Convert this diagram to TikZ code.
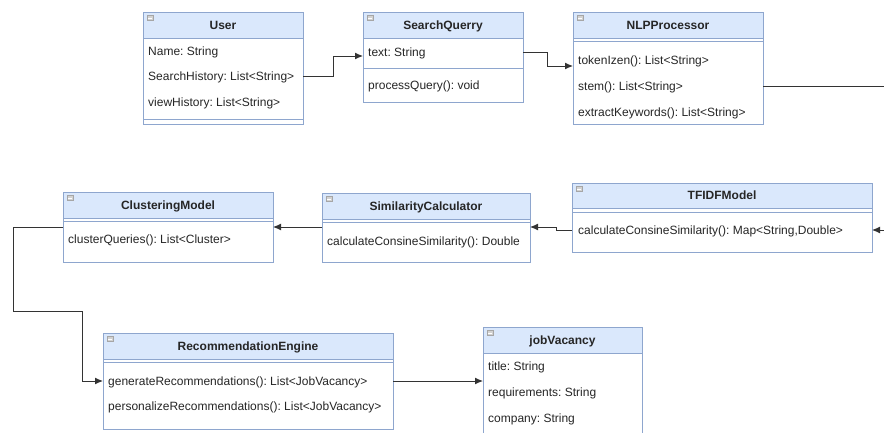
\documentclass[tikz,border=0pt]{standalone}
\usepackage{fontspec}
\setmainfont{Liberation Sans}
\usetikzlibrary{arrows.meta,calc,fit}
\frenchspacing

\definecolor{hdrfill}{HTML}{DAE8FC}
\definecolor{hdrline}{HTML}{8EA6CE}
\definecolor{wire}{HTML}{333333}
\definecolor{ink}{HTML}{262626}

\tikzset{
  x=1pt, y=-1pt,
  cls/.style={draw=hdrline, fill=white, line width=0.8pt, inner sep=0pt, outer sep=0pt},
  head/.style={draw=hdrline, fill=hdrfill, line width=0.8pt, inner sep=0pt, outer sep=0pt},
  ttl/.style={inner sep=0pt, text=ink, font=\bfseries\fontsize{12}{14}\selectfont,
              text height=8.6pt, text depth=0pt},
  row/.style={anchor=west, inner sep=0pt, text=ink, font=\fontsize{12}{14}\selectfont,
              text height=8.6pt, text depth=0pt},
  toggle/.style={draw=gray!70, fill=gray!35, line width=0.4pt, inner sep=0pt,
                 minimum width=6pt, minimum height=5pt},
  divider/.style={draw=hdrline, line width=0.8pt},
  link/.style={draw=wire, line width=1pt, -{Latex[length=8pt,width=7pt]}},
}

% class box: name, left, top, right, bottom, header bottom, title
\newcommand{\umlbox}[7]{%
  \node[cls, fit={(#2,#3) (#4,#5)}] (#1) {};
  \node[head, fit={(#2,#3) (#4,#6)}] (#1-h) {};
  \node[ttl] (#1-t) at (#1-h.center) {#7};
  \node[toggle] (#1-m) at ($(#2,#3)+(7,6)$) {};
  \draw[white, line width=0.5pt] ($(#1-m.center)+(-2,0)$) -- ($(#1-m.center)+(2,0)$);
}

\begin{document}
\begin{tikzpicture}
\useasboundingbox (0,0) rectangle (884,432);
\clip (0,0) rectangle (884,432);
\fill[white] (0,0) rectangle (884,432);

% ---- top row ----
\umlbox{user}{143}{12}{303}{124}{38}{User}
\node[row] (user-r1) at (148,51)  {Name: String};
\node[row] (user-r2) at (148,76)  {SearchHistory: List<String>};
\node[row] (user-r3) at (148,102) {viewHistory: List<String>};
\draw[divider] (user.west |- 0,119) -- (user.east |- 0,119);

\umlbox{query}{363}{12}{523}{102}{38}{SearchQuerry}
\node[row] (query-r1) at (368,52) {text: String};
\draw[divider] (query.west |- 0,68) -- (query.east |- 0,68);
\node[row] (query-r2) at (368,85) {processQuery(): void};

\umlbox{nlp}{573}{12}{763}{124}{38}{NLPProcessor}
\draw[divider] (nlp.west |- 0,41) -- (nlp.east |- 0,41);
\node[row] (nlp-r1) at (578,60)  {tokenIzen(): List<String>};
\node[row] (nlp-r2) at (578,86)  {stem(): List<String>};
\node[row] (nlp-r3) at (578,112) {extractKeywords(): List<String>};

% ---- middle row ----
\umlbox{cluster}{63}{192}{273}{262}{218}{ClusteringModel}
\draw[divider] (cluster.west |- 0,221) -- (cluster.east |- 0,221);
\node[row] (cluster-r1) at (68,239) {clusterQueries(): List<Cluster>};

\umlbox{simil}{322}{193}{530}{262}{219}{SimilarityCalculator}
\draw[divider] (simil.west |- 0,222) -- (simil.east |- 0,222);
\node[row] (simil-r1) at (327,241) {calculateConsineSimilarity(): Double};

\umlbox{tfidf}{572}{183}{872}{252}{208}{TFIDFModel}
\draw[divider] (tfidf.west |- 0,212) -- (tfidf.east |- 0,212);
\node[row] (tfidf-r1) at (578,230) {calculateConsineSimilarity(): Map<String,Double>};

% ---- bottom row ----
\umlbox{recom}{103}{333}{393}{429}{359}{RecommendationEngine}
\draw[divider] (recom.west |- 0,362) -- (recom.east |- 0,362);
\node[row] (recom-r1) at (108,381) {generateRecommendations(): List<JobVacancy>};
\node[row] (recom-r2) at (108,406) {personalizeRecommendations(): List<JobVacancy>};

\umlbox{job}{483}{327}{642}{440}{353}{jobVacancy}
\node[row] (job-r1) at (488,366) {title: String};
\node[row] (job-r2) at (488,392) {requirements: String};
\node[row] (job-r3) at (488,418) {company: String};

% ---- connectors ----
\coordinate (offR) at (900,0);
\draw[link] (user.east |- user-r2) -- ++(30,0) |- (query.west |- 0,56);
\draw[link] (query.east |- query-r1) -- ++(24,0) |- (nlp.west |- 0,66);
\draw[link] (nlp.east |- nlp-r2) -- (offR |- nlp-r2) |- (tfidf.east |- tfidf-r1);
\draw[link] (tfidf.west |- tfidf-r1) -- ++(-16,0) -- ++(0,-3) -- (simil.east |- 0,227);
\draw[link] (simil.west |- 0,227) -- (cluster.east |- 0,227);
\draw[link] (cluster.west |- 0,227) -- (13,227) -- (13,311) -- (82,311) |- (recom.west |- recom-r1);
\draw[link] (recom.east |- recom-r1) -- (job.west |- recom-r1);
\end{tikzpicture}
\end{document}
